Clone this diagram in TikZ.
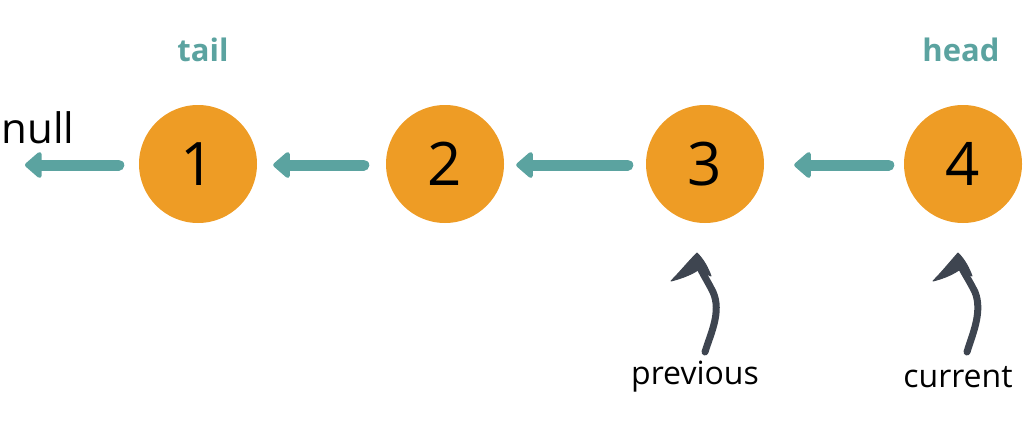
\documentclass[tikz,border=0pt]{standalone}
\usepackage{fontspec}
\setmainfont{Open Sans}
\usetikzlibrary{arrows.meta}
\definecolor{blob}{HTML}{EE9C25}
\definecolor{teal}{HTML}{5BA3A0}
\definecolor{ink}{HTML}{3E4550}
\tikzset{
  blobnode/.style={circle,fill=blob,minimum size=118pt,inner sep=0pt,font=\fontsize{60}{60}\selectfont},
  link/.style={draw=teal,line width=11pt,line cap=round,-{Triangle[length=18pt,width=30pt,round]}},
  tag/.style={text=teal,font=\bfseries\fontsize{31}{31}\selectfont},
  ptr/.style={font=\fontsize{32}{32}\selectfont},
  pshaft/.style={draw=ink,line width=7pt,line cap=round},
  phead/.style={fill=ink,draw=ink,line width=1pt,line join=round}
}
\begin{document}
\begin{tikzpicture}[x=1pt,y=-1pt]
\useasboundingbox (0,0) rectangle (1030,426);
\node[blobnode] (n1) at (198,164) {1};
\node[blobnode] (n2) at (445,164) {2};
\node[blobnode] (n3) at (705,164) {3};
\node[blobnode] (n4) at (963,164) {4};
\node[font=\fontsize{42}{42}\selectfont] (null) at (38,128) {null};
\coordinate (nullend) at (25,165);
\node[tag] (tail) at (203,50) {tail};
\node[tag] (head) at (961,50) {head};
\draw[link] ([xshift=-20pt,yshift=-1pt]n1.west) -- (nullend);
\draw[link] ([xshift=-22pt,yshift=-1pt]n2.west) -- ([xshift=16pt,yshift=-1pt]n1.east);
\draw[link] ([xshift=-18pt,yshift=-1pt]n3.west) -- ([xshift=12pt,yshift=-1pt]n2.east);
\draw[link] ([xshift=-15pt,yshift=-1pt]n4.west) -- ([xshift=30pt,yshift=-1pt]n3.east);
\node[ptr] (prev) at (695,377) {previous};
\node[ptr] (curr) at (958,377) {current};
% previous pointer
\coordinate (pbase) at (705,352);
\coordinate (ptip) at (697,253);
\draw[pshaft] (pbase) .. controls (710,335) and (722,312) .. (713,292) .. controls (706,278) and (700,270) .. (698,262);
\fill[phead] (ptip) .. controls (688,262) and (680,272) .. (671,281) .. controls (683,278) and (692,274) .. (698,270) .. controls (702,272) and (706,274) .. (711,276) .. controls (708,268) and (704,260) .. (ptip) -- cycle;
% current pointer
\coordinate (cbase) at (967,352);
\coordinate (ctip) at (958,253);
\draw[pshaft] (cbase) .. controls (972,335) and (983,312) .. (975,292) .. controls (968,278) and (962,270) .. (959,262);
\fill[phead] (ctip) .. controls (950,262) and (942,272) .. (933,281) .. controls (945,278) and (953,274) .. (959,270) .. controls (963,272) and (967,274) .. (972,276) .. controls (969,268) and (965,260) .. (ctip) -- cycle;
\end{tikzpicture}
\end{document}
